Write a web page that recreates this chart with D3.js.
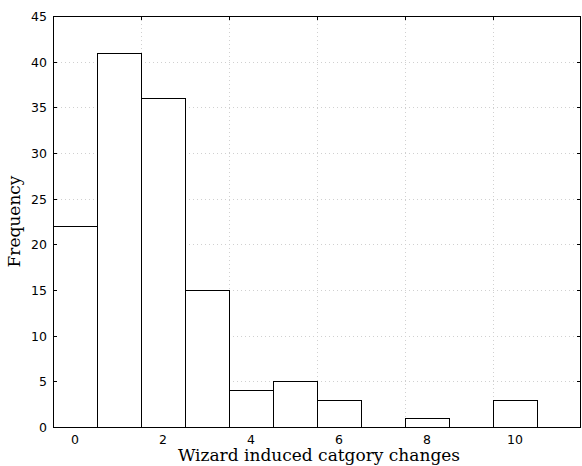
<!DOCTYPE html>
<html>
<head>
<meta charset="utf-8">
<script src="https://cdn.jsdelivr.net/npm/d3@7"></script>
<style>
  body { margin: 0; background: #fff; }
  svg { display: block; }
</style>
</head>
<body>
<div id="chart"></div>
<script>
// counts per category (0..11)
var categories = [0, 1, 2, 3, 4, 5, 6, 7, 8, 9, 10, 11];
var counts = [22, 41, 36, 15, 4, 5, 3, 0, 1, 0, 3, 0];
var xTicks = [0, 2, 4, 6, 8, 10];
var yTicks = [0, 5, 10, 15, 20, 25, 30, 35, 40, 45];

var width = 582;
var height = 466;
var plotLeft = 53, plotRight = 581, plotTop = 16, plotBottom = 427;

var svg = d3.select("#chart")
    .append("svg")
      .attr("width", width)
      .attr("height", height);

var x = d3.scaleLinear()
    .domain([0, 12])
    .range([plotLeft, plotRight]);

var y = d3.scaleLinear()
    .domain([0, 45])
    .range([plotBottom, plotTop]);

// grid
var grid = svg.append("g");
grid.selectAll("line.gy")
    .data(yTicks.slice(1, -1))
    .enter()
    .append("line")
      .attr("x1", plotLeft).attr("x2", plotRight)
      .attr("y1", function(d) { return Math.round(y(d)) + 0.5; })
      .attr("y2", function(d) { return Math.round(y(d)) + 0.5; })
      .style("stroke", "#d0d0d0")
      .style("stroke-dasharray", "1,3");
grid.selectAll("line.gx")
    .data(xTicks.slice(1))
    .enter()
    .append("line")
      .attr("y1", plotTop).attr("y2", plotBottom)
      .attr("x1", function(d) { return Math.round(x(d)) + 0.5; })
      .attr("x2", function(d) { return Math.round(x(d)) + 0.5; })
      .style("stroke", "#d0d0d0")
      .style("stroke-dasharray", "1,3");

// bars
svg.append("g")
  .selectAll("rect")
  .data(categories.filter(function(d, i) { return counts[i] > 0; }))
  .enter()
  .append("rect")
    .attr("x", function(d) { return Math.round(x(d)) + 0.5; })
    .attr("y", function(d) { return Math.round(y(counts[d])) + 0.5; })
    .attr("width", function(d) { return Math.round(x(d + 1)) - Math.round(x(d)); })
    .attr("height", function(d) { return Math.round(y(0)) - Math.round(y(counts[d])); })
    .style("fill", "#fff")
    .style("stroke", "#000")
    .style("stroke-width", 1);

// frame
svg.append("rect")
    .attr("x", plotLeft + 0.5).attr("y", plotTop + 0.5)
    .attr("width", plotRight - plotLeft - 1).attr("height", plotBottom - plotTop)
    .style("fill", "none")
    .style("stroke", "#000");

// y ticks (inward, both sides)
var yt = svg.append("g");
yTicks.forEach(function(d) {
  var py = Math.round(y(d)) + 0.5;
  yt.append("line").attr("x1", plotLeft).attr("x2", plotLeft + 4).attr("y1", py).attr("y2", py).style("stroke", "#000");
  yt.append("line").attr("x1", plotRight - 4).attr("x2", plotRight).attr("y1", py).attr("y2", py).style("stroke", "#000");
  yt.append("text")
    .attr("x", plotLeft - 6)
    .attr("y", py + 4.5)
    .attr("text-anchor", "end")
    .style("font-family", "DejaVu Sans")
    .style("font-size", "12.5px")
    .text(d);
});

// x ticks at bin edges, labels at bin centres
var xt = svg.append("g");
xTicks.forEach(function(d) {
  var px = Math.round(x(d)) + 0.5;
  xt.append("line").attr("x1", px).attr("x2", px).attr("y1", plotBottom).attr("y2", plotBottom - 4).style("stroke", "#000");
  xt.append("line").attr("x1", px).attr("x2", px).attr("y1", plotTop).attr("y2", plotTop + 4).style("stroke", "#000");
  xt.append("text")
    .attr("x", x(d + 0.5))
    .attr("y", plotBottom + 17)
    .attr("text-anchor", "middle")
    .style("font-family", "DejaVu Sans")
    .style("font-size", "12.5px")
    .text(d);
});

// axis labels
svg.append("text")
    .attr("x", (plotLeft + plotRight) / 2 + 2)
    .attr("y", 461)
    .attr("text-anchor", "middle")
    .style("font-family", "DejaVu Serif")
    .style("font-size", "17px")
    .text("Wizard induced catgory changes");

svg.append("text")
    .attr("transform", "translate(20," + ((plotTop + plotBottom) / 2) + ") rotate(-90)")
    .attr("text-anchor", "middle")
    .style("font-family", "DejaVu Serif")
    .style("font-size", "17px")
    .text("Frequency");
</script>
</body>
</html>
